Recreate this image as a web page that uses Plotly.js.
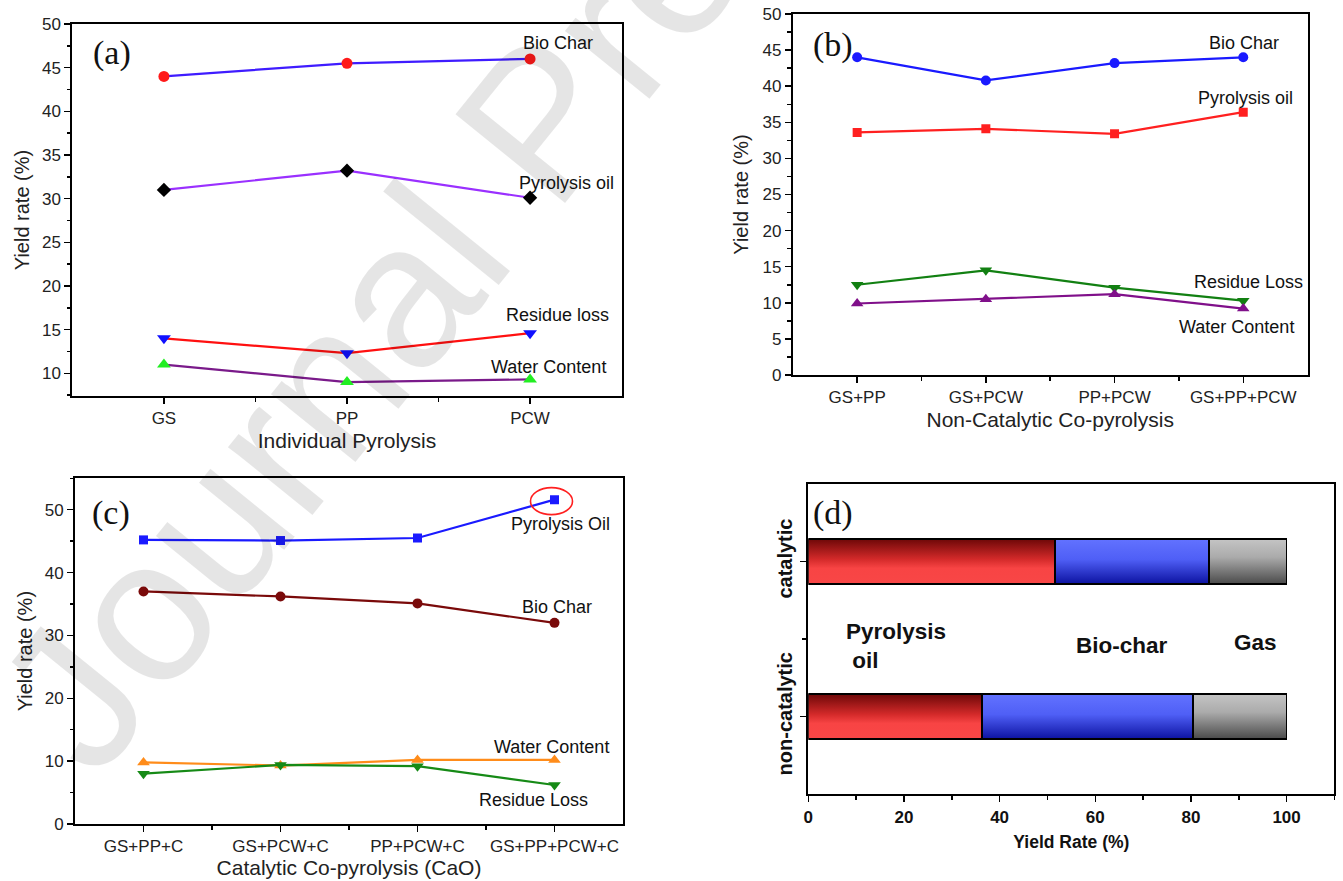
<!DOCTYPE html>
<html>
<head>
<meta charset="utf-8">
<script src="https://cdn.plot.ly/plotly-3.0.1.min.js"></script>
<style>
html,body{margin:0;padding:0;background:#fff;}
#chart{width:1343px;height:881px;}
</style>
</head>
<body>
<div id="chart"></div>
<script>
// ---------- DATA ----------
// (a) Individual pyrolysis
const aCategories = ['GS', 'PP', 'PCW'];
const aBioChar = [44.0, 45.5, 46.0];
const aPyrolysisOil = [31.0, 33.2, 30.1];
const aResidueLoss = [14.0, 12.3, 14.6];
const aWaterContent = [11.0, 9.0, 9.3];

// (b) Non-catalytic co-pyrolysis
const bCategories = ['GS+PP', 'GS+PCW', 'PP+PCW', 'GS+PP+PCW'];
const bBioChar = [44.0, 40.8, 43.2, 44.0];
const bPyrolysisOil = [33.6, 34.1, 33.4, 36.4];
const bResidueLoss = [12.5, 14.5, 12.1, 10.3];
const bWaterContent = [9.9, 10.5, 11.2, 9.2];

// (c) Catalytic co-pyrolysis (CaO)
const cCategories = ['GS+PP+C', 'GS+PCW+C', 'PP+PCW+C', 'GS+PP+PCW+C'];
const cPyrolysisOil = [45.2, 45.1, 45.5, 51.6];
const cBioChar = [37.0, 36.2, 35.1, 32.0];
const cWaterContent = [9.8, 9.3, 10.2, 10.2];
const cResidueLoss = [8.0, 9.4, 9.2, 6.2];

// (d) Yield split
const dCategories = ['catalytic', 'non-catalytic'];
const dPyrolysisOil = [51.6, 36.4];
const dBioChar = [32.2, 44.0];
const dGas = [16.2, 19.6];

// ---------- HELPERS ----------
const W = 1343, H = 881;
const fx = p => p / W;
const fy = p => 1 - p / H;
const idx = arr => arr.map((_, i) => i);
const SANS = 'Liberation Sans, Arial, sans-serif';
const SERIF = 'Liberation Serif, Times New Roman, serif';
const TICK = 17, TITLE_X = 21, TITLE_Y = 20, LBL = 18;

function lineTrace(cats, vals, xa, ya, name, lineColor, symbol, size, mColor) {
  return {
    x: idx(cats), y: vals, xaxis: xa, yaxis: ya, name: name,
    type: 'scatter', mode: 'lines+markers',
    line: {color: lineColor, width: 2.2},
    marker: {symbol: symbol, size: size, color: mColor, line: {width: 0}},
    hoverinfo: 'x+y+name'
  };
}

function catAxis(domain, anchor, cats, titleText, standoff) {
  return {
    domain: domain, anchor: anchor, range: [-0.5, cats.length - 0.5],
    tickmode: 'array', tickvals: idx(cats), ticktext: cats,
    ticks: 'outside', ticklen: 6, tickwidth: 1.5, tickcolor: '#000',
    minor: {tickmode: 'array', tickvals: cats.slice(1).map((_, i) => i + 0.5),
            ticks: 'outside', ticklen: 4, tickwidth: 1.5, tickcolor: '#000'},
    showline: true, mirror: true, linecolor: '#000', linewidth: 2,
    showgrid: false, zeroline: false, automargin: false,
    tickfont: {family: SANS, size: TICK, color: '#222'},
    title: {text: titleText, font: {family: SANS, size: TITLE_X, color: '#222'}, standoff: standoff}
  };
}

function valAxis(domain, anchor, range, dtick, minorDtick, standoff) {
  return {
    domain: domain, anchor: anchor, range: range,
    tickmode: 'linear', tick0: 0, dtick: dtick,
    ticks: 'outside', ticklen: 6, tickwidth: 1.5, tickcolor: '#000',
    minor: {tick0: 0, dtick: minorDtick, ticks: 'outside', ticklen: 3.5, tickwidth: 1.5, tickcolor: '#000'},
    showline: true, mirror: true, linecolor: '#000', linewidth: 2,
    showgrid: false, zeroline: false, automargin: false,
    tickfont: {family: SANS, size: TICK, color: '#222'},
    title: {text: 'Yield rate (%)', font: {family: SANS, size: TITLE_Y, color: '#222'}, standoff: standoff}
  };
}

// ---------- TRACES ----------
const data = [
  // (a)
  lineTrace(aCategories, aBioChar, 'x', 'y', 'Bio Char', '#3f1cff', 'circle', 11, '#ff1a1a'),
  lineTrace(aCategories, aPyrolysisOil, 'x', 'y', 'Pyrolysis oil', '#9a30ff', 'diamond', 11, '#000000'),
  lineTrace(aCategories, aResidueLoss, 'x', 'y', 'Residue loss', '#ff1010', 'triangle-down', 12, '#1010ff'),
  lineTrace(aCategories, aWaterContent, 'x', 'y', 'Water Content', '#7a1a8a', 'triangle-up', 12, '#22ee22'),
  // (b)
  lineTrace(bCategories, bBioChar, 'x2', 'y2', 'Bio Char', '#1a1aff', 'circle', 10, '#1a1aff'),
  lineTrace(bCategories, bPyrolysisOil, 'x2', 'y2', 'Pyrolysis oil', '#ff2020', 'square', 9, '#ff2020'),
  lineTrace(bCategories, bResidueLoss, 'x2', 'y2', 'Residue Loss', '#128012', 'triangle-down', 11, '#128012'),
  lineTrace(bCategories, bWaterContent, 'x2', 'y2', 'Water Content', '#80108a', 'triangle-up', 11, '#80108a'),
  // (c)
  lineTrace(cCategories, cPyrolysisOil, 'x3', 'y3', 'Pyrolysis Oil', '#1a1aff', 'square', 9, '#1a1aff'),
  lineTrace(cCategories, cBioChar, 'x3', 'y3', 'Bio Char', '#7a0a0a', 'circle', 10, '#7a0a0a'),
  lineTrace(cCategories, cWaterContent, 'x3', 'y3', 'Water Content', '#ff8c1a', 'triangle-up', 11, '#ff8c1a'),
  lineTrace(cCategories, cResidueLoss, 'x3', 'y3', 'Residue Loss', '#168a16', 'triangle-down', 11, '#168a16')
];

const dY = dCategories.map((_, i) => dCategories.length - 1 - i);
const barSeries = [
  {name: 'Pyrolysis oil', vals: dPyrolysisOil, color: '#e03232'},
  {name: 'Bio-char', vals: dBioChar, color: '#3a48e8'},
  {name: 'Gas', vals: dGas, color: '#8a8a8a'}
];
barSeries.forEach(s => data.push({
  type: 'bar', orientation: 'h', x: s.vals, y: dY, xaxis: 'x4', yaxis: 'y4',
  name: s.name, width: 0.29,
  marker: {color: s.color, line: {color: '#000', width: 1.8}},
  hoverinfo: 'x+name'
}));

// ---------- LAYOUT ----------
function label(text, px, py, size, opts) {
  return Object.assign({
    text: text, xref: 'paper', yref: 'paper', x: fx(px), y: fy(py),
    xanchor: 'center', yanchor: 'middle', showarrow: false,
    font: {family: SANS, size: size, color: '#111'}
  }, opts || {});
}
const serif = {font: {family: SERIF, size: 34, color: '#111'}};
const boldBig = {font: {family: SANS, size: 22.5, color: '#111', weight: 'bold'}};

// highlight ellipse around the maximum catalytic pyrolysis-oil point
const cMaxIdx = cPyrolysisOil.indexOf(Math.max(...cPyrolysisOil));

const layout = {
  width: W, height: H, autosize: false,
  margin: {l: 0, r: 0, t: 0, b: 0, pad: 0},
  paper_bgcolor: '#fff', plot_bgcolor: '#fff',
  showlegend: false,
  barmode: 'stack',
  xaxis: catAxis([fx(72.4), fx(621.6)], 'y', aCategories, 'Individual Pyrolysis', 6),
  yaxis: valAxis([fy(396), fy(24)], 'x', [7.4, 50], 5, 2.5, 7),
  xaxis2: catAxis([fx(792.8), fx(1307.6)], 'y2', bCategories, 'Non-Catalytic Co-pyrolysis', 6),
  yaxis2: valAxis([fy(375), fy(14)], 'x2', [0, 50], 5, 2.5, 8),
  xaxis3: catAxis([fx(75), fx(623)], 'y3', cCategories, 'Catalytic Co-pyrolysis (CaO)', 4),
  yaxis3: valAxis([fy(824), fy(478.3)], 'x3', [0, 55], 10, 5, 7),
  xaxis4: {
    domain: [fx(808.3), fx(1334.4)], anchor: 'y4', range: [0, 110],
    tickmode: 'linear', tick0: 0, dtick: 20,
    ticks: 'outside', ticklen: 6, tickwidth: 1.5, tickcolor: '#000',
    minor: {tick0: 0, dtick: 10, ticks: 'outside', ticklen: 4, tickwidth: 1.5, tickcolor: '#000'},
    showline: true, mirror: true, linecolor: '#000', linewidth: 2,
    showgrid: false, zeroline: false, automargin: false,
    tickfont: {family: SANS, size: 17, color: '#111', weight: 'bold'},
    title: {text: 'Yield Rate (%)', font: {family: SANS, size: 17.5, color: '#111', weight: 'bold'}, standoff: 10}
  },
  yaxis4: {
    domain: [fy(794.3), fy(484)], anchor: 'x4', range: [-0.5, dCategories.length - 0.5],
    tickmode: 'array', tickvals: dY, ticktext: dCategories, tickangle: -90,
    ticks: 'outside', ticklen: 6, tickwidth: 1.5, tickcolor: '#000',
    minor: {tickmode: 'array', tickvals: dY.slice(1).map(v => v + 0.5), ticks: 'outside', ticklen: 4, tickwidth: 1.5, tickcolor: '#000'},
    showline: true, mirror: true, linecolor: '#000', linewidth: 2,
    showgrid: false, zeroline: false, automargin: false,
    tickfont: {family: SANS, size: 20, color: '#111', weight: 'bold'}
  },
  shapes: [{
    type: 'circle', xref: 'x3', yref: 'y3',
    xsizemode: 'pixel', ysizemode: 'pixel',
    xanchor: cMaxIdx, yanchor: cPyrolysisOil[cMaxIdx],
    x0: -24, x1: 18, y0: -15, y1: 12,
    line: {color: '#ff2020', width: 1.6}, fillcolor: 'rgba(0,0,0,0)'
  }],
  annotations: [
    // watermark (drawn first, lightly)
    label('Journal Pre-proof', 538, 122, 205, {textangle: -51, font: {family: SANS, size: 205, color: 'rgba(0,0,0,0.10)'}}),
    // panel letters
    label('(a)', 111.5, 53, 34, serif),
    label('(b)', 833, 45, 34, serif),
    label('(c)', 111, 513, 34, serif),
    label('(d)', 833, 513, 34, serif),
    // (a)
    label('Bio Char', 557.6, 42.7, LBL),
    label('Pyrolysis oil', 566, 182.7, LBL),
    label('Residue loss', 557, 315, LBL),
    label('Water Content', 548, 366.7, LBL),
    // (b)
    label('Bio Char', 1244, 42.7, LBL),
    label('Pyrolysis oil', 1245, 97.7, LBL),
    label('Residue Loss', 1248, 281.7, LBL),
    label('Water Content', 1236, 327, LBL),
    // (c)
    label('Pyrolysis Oil', 560, 524.3, LBL),
    label('Bio Char', 557, 606.7, LBL),
    label('Water Content', 551, 747.3, LBL),
    label('Residue Loss', 533, 800, LBL),
    // (d)
    label('Pyrolysis<br>&nbsp;oil', 844, 646, 22.5, Object.assign({xanchor: 'left', align: 'left'}, boldBig)),
    label('Bio-char', 1122, 645, 22.5, boldBig),
    label('Gas', 1255, 642, 22.5, boldBig)
  ]
};

// ---------- GRADIENT FILLS FOR (d) ----------
const gradDefs = [
  {id: 'gradOil', stops: [[0, '#6e0808'], [0.45, '#d42a2a'], [0.65, '#f84444'], [1, '#f84646']]},
  {id: 'gradChar', stops: [[0, '#6272ff'], [0.45, '#4f5ff6'], [1, '#0c12a0']]},
  {id: 'gradGas', stops: [[0, '#c4c4c4'], [0.4, '#ababab'], [1, '#4a4a4a']]}
];

function applyGradients(gd) {
  const ns = 'http://www.w3.org/2000/svg';
  const svg = gd.querySelector('svg.main-svg');
  if (!svg) return;
  let defs = svg.querySelector('defs');
  if (!defs) { defs = document.createElementNS(ns, 'defs'); svg.insertBefore(defs, svg.firstChild); }
  gradDefs.forEach(g => {
    const lg = document.createElementNS(ns, 'linearGradient');
    lg.setAttribute('id', g.id);
    lg.setAttribute('x1', '0'); lg.setAttribute('y1', '0');
    lg.setAttribute('x2', '0'); lg.setAttribute('y2', '1');
    g.stops.forEach(s => {
      const st = document.createElementNS(ns, 'stop');
      st.setAttribute('offset', String(s[0]));
      st.setAttribute('stop-color', s[1]);
      lg.appendChild(st);
    });
    defs.appendChild(lg);
  });
  const traces = gd.querySelectorAll('.barlayer .trace.bars');
  traces.forEach((t, i) => {
    if (!gradDefs[i]) return;
    t.querySelectorAll('path').forEach(p => { p.style.fill = 'url(#' + gradDefs[i].id + ')'; });
  });
}

Plotly.newPlot('chart', data, layout, {displayModeBar: false, staticPlot: true})
  .then(gd => applyGradients(gd));
</script>
</body>
</html>
